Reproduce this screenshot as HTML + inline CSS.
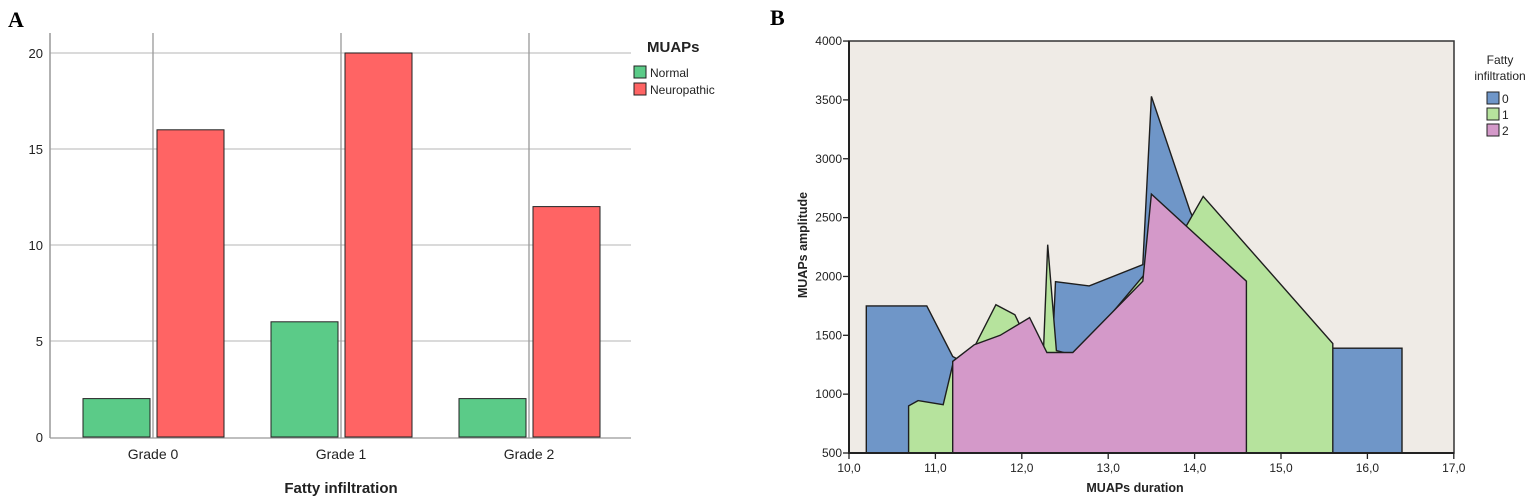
<!DOCTYPE html>
<html><head><meta charset="utf-8">
<style>
body{margin:0;background:#fff;width:1535px;height:501px;overflow:hidden;font-family:"Liberation Sans",Arial,sans-serif}
svg{position:absolute;left:0;top:0}
</style></head>
<body>
<svg id="chart" width="1535" height="501" xmlns="http://www.w3.org/2000/svg">
<text x="8" y="27" font-family="Liberation Serif" font-weight="bold" font-size="22">A</text>
<text x="770" y="25" font-family="Liberation Serif" font-weight="bold" font-size="22">B</text>
<g id="pa"></g>
<g id="pb"></g>
</svg>
<script>
// Panel A data
const categories = ["Grade 0","Grade 1","Grade 2"];
const normalValues = [2,6,2];
const neuroValues = [16,20,12];
const yTicksA = [0,5,10,15,20];
// Panel B data
const xTicksB = ["10,0","11,0","12,0","13,0","14,0","15,0","16,0","17,0"];
const xTickValsB = [10,11,12,13,14,15,16,17];
const yTicksB = [500,1000,1500,2000,2500,3000,3500,4000];
const blueX1 = [10.2,10.2,10.9,11.2,11.5,12.35,12.39,12.78,13.4,13.5,13.95,14.6,14.6];
const blueY1 = [500,1750,1750,1320,1200,1300,1955,1920,2100,3530,2550,1500,500];
const blueX2 = [15.6,15.6,16.4,16.4];
const blueY2 = [500,1390,1390,500];
const greenX = [10.69,10.69,10.8,11.09,11.2,11.45,11.7,11.92,12.0,12.25,12.3,12.4,12.55,12.7,13.0,13.4,13.91,14.1,15.6,15.6];
const greenY = [500,900,945,910,1250,1400,1760,1675,1550,1354,2270,1370,1340,1354,1650,2000,2436,2680,1430,500];
const pinkX = [11.2,11.2,11.45,11.75,12.09,12.29,12.59,13.4,13.5,14.6,14.6];
const pinkY = [500,1278,1420,1500,1650,1354,1354,1960,2700,1960,500];

const NS="http://www.w3.org/2000/svg";
function mk(parent,tag,attrs,text){const e=document.createElementNS(NS,tag);for(const k in attrs)e.setAttribute(k,attrs[k]);if(text!==undefined)e.textContent=text;parent.appendChild(e);return e;}

// ---- Panel A
const pa=document.getElementById('pa');
const yA=v=>437-v*19.2;
const xA=i=>153+i*188;
yTicksA.forEach(t=>{
  if(t>0){const g=mk(pa,'line',{x1:50,x2:631,y1:yA(t),y2:yA(t),stroke:'#c4c4c4','stroke-width':1.3});
  }
  const l=mk(pa,'text',{x:43,y:yA(t)+5,'text-anchor':'end','font-size':13,fill:'#222'},t);
  
});
mk(pa,'line',{x1:50,x2:50,y1:33,y2:438,stroke:'#999','stroke-width':1.5});
categories.forEach((c,i)=>{
  const v=mk(pa,'line',{x1:xA(i),x2:xA(i),y1:33,y2:438,stroke:'#999','stroke-width':1.3});
  
});
mk(pa,'line',{x1:50,x2:631,y1:438,y2:438,stroke:'#999','stroke-width':1.3});
categories.forEach((c,i)=>{
  const b1=mk(pa,'rect',{x:xA(i)-70,y:yA(normalValues[i]),width:67,height:437-yA(normalValues[i]),fill:'#5bcb88',stroke:'#222','stroke-width':1});
  
  
  const b2=mk(pa,'rect',{x:xA(i)+4,y:yA(neuroValues[i]),width:67,height:437-yA(neuroValues[i]),fill:'#ff6464',stroke:'#222','stroke-width':1});
  
  
  const t=mk(pa,'text',{x:xA(i),y:459,'text-anchor':'middle','font-size':14,fill:'#222'},c);
  
  
});
mk(pa,'text',{x:341,y:493,'text-anchor':'middle','font-size':15,'font-weight':'bold',fill:'#222'},'Fatty infiltration');
mk(pa,'text',{x:647,y:52,'font-size':15,'font-weight':'bold',fill:'#222'},'MUAPs');
[['#5bcb88','Normal'],['#ff6464','Neuropathic']].forEach((d,i)=>{
  const r=mk(pa,'rect',{x:634,y:66+i*17,width:12,height:12,fill:d[0],stroke:'#222','stroke-width':1});
  
  const t=mk(pa,'text',{x:650,y:77+i*17,'font-size':12,fill:'#222'},d[1]);
  
});

// ---- Panel B
const pb=document.getElementById('pb');
const xB=v=>849+(v-10)*86.4;
const yB=v=>453-(v-500)*0.1177;
mk(pb,'rect',{x:849,y:41,width:605,height:412,fill:'#efebe6',stroke:'#333','stroke-width':1.5});
function poly(xs,ys,fill,name){
  const pts=xs.map((x,i)=>xB(x).toFixed(1)+','+yB(ys[i]).toFixed(1)).join(' ');
  const p=mk(pb,'polygon',{points:pts,fill:fill,stroke:'#1e1e1e','stroke-width':1.4,'stroke-linejoin':'miter'});
  
  
}
poly(blueX1,blueY1,'#6f96c8','area-grade-0');
poly(blueX2,blueY2,'#6f96c8','area-grade-0-right');
poly(greenX,greenY,'#b6e39d','area-grade-1');
poly(pinkX,pinkY,'#d499c9','area-grade-2');
mk(pb,'line',{x1:849,x2:849,y1:41,y2:454,stroke:'#222','stroke-width':2});
mk(pb,'line',{x1:848,x2:1454,y1:453,y2:453,stroke:'#222','stroke-width':2});
yTicksB.forEach(t=>{
  mk(pb,'line',{x1:843,x2:849,y1:yB(t),y2:yB(t),stroke:'#222','stroke-width':1.3});
  const l=mk(pb,'text',{x:842,y:yB(t)+4,'text-anchor':'end','font-size':12,fill:'#222'},t);
  
});
xTickValsB.forEach((v,i)=>{
  mk(pb,'line',{x1:xB(v),x2:xB(v),y1:453,y2:459,stroke:'#222','stroke-width':1.3});
  const l=mk(pb,'text',{x:xB(v),y:472,'text-anchor':'middle','font-size':12,fill:'#222'},xTicksB[i]);
  
});
mk(pb,'text',{x:1135,y:492,'text-anchor':'middle','font-size':12.5,'font-weight':'bold',fill:'#222'},'MUAPs duration');
mk(pb,'text',{x:807,y:245,'text-anchor':'middle','font-size':12.5,'font-weight':'bold',fill:'#222',transform:'rotate(-90 807 245)'},'MUAPs amplitude');
mk(pb,'text',{x:1500,y:64,'text-anchor':'middle','font-size':12,fill:'#222'},'Fatty');
mk(pb,'text',{x:1500,y:80,'text-anchor':'middle','font-size':12,fill:'#222'},'infiltration');
[['#6f96c8','0'],['#b6e39d','1'],['#d499c9','2']].forEach((d,i)=>{
  const r=mk(pb,'rect',{x:1487,y:92+i*16,width:12,height:12,fill:d[0],stroke:'#222','stroke-width':1});
  
  const t=mk(pb,'text',{x:1502,y:103+i*16,'font-size':12,fill:'#222'},d[1]);
  
});
</script>
</body></html>
